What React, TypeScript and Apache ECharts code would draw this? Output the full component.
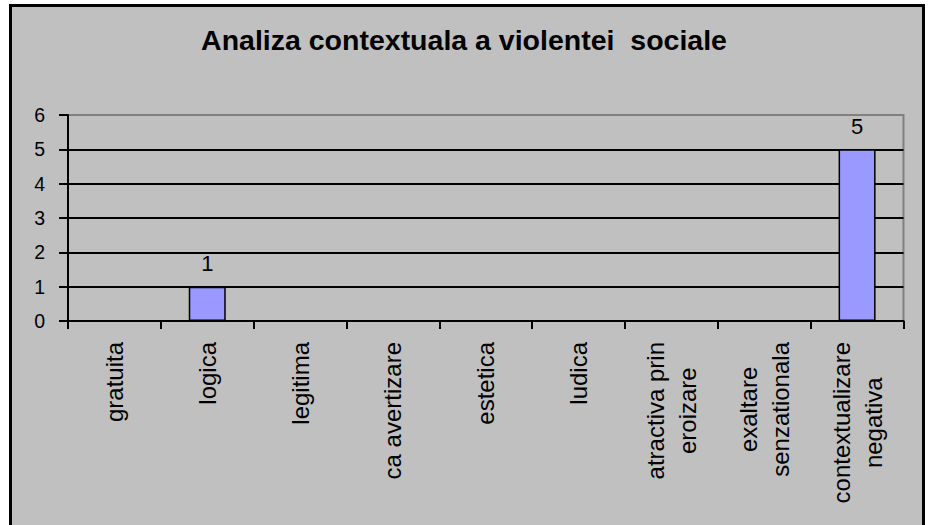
import React, { useEffect, useRef } from "react";
import * as echarts from "echarts";

const titleText = "Analiza contextuala a violentei  sociale";
const categories = [
  "gratuita",
  "logica",
  "legitima",
  "ca avertizare",
  "estetica",
  "ludica",
  "atractiva prin\neroizare",
  "exaltare\nsenzationala",
  "contextualizare\nnegativa",
];
const values = [0, 1, 0, 0, 0, 0, 0, 0, 5];
const yTicks = { min: 0, max: 6, interval: 1 };

const FONT = "'Liberation Sans', Arial, Helvetica, sans-serif";

export default function App() {
  const ref = useRef<HTMLDivElement>(null);
  useEffect(() => {
    if (!ref.current) return;
    const chart = echarts.init(ref.current, null, { renderer: "svg" });
    chart.setOption({
      animation: false,
      backgroundColor: "transparent",
      title: {
        text: titleText,
        left: "center",
        top: 20,
        textStyle: {
          fontFamily: FONT,
          fontSize: 28.5,
          fontWeight: "bold",
          color: "#000",
        },
      },
      grid: {
        left: 68,
        right: 24.5,
        top: 115,
        bottom: 204,
        show: true,
        borderColor: "#808080",
        borderWidth: 2,
        backgroundColor: "transparent",
      },
      xAxis: {
        type: "category",
        data: categories,
        boundaryGap: true,
        axisLine: { show: true, lineStyle: { color: "#000", width: 2 } },
        axisTick: {
          show: true,
          interval: 0,
          length: 8,
          lineStyle: { color: "#000", width: 2 },
        },
        axisLabel: {
          interval: 0,
          rotate: 90,
          margin: 21,
          color: "#000",
          fontFamily: FONT,
          fontSize: 24,
          lineHeight: 32,
          formatter: (v: string) =>
            v
              .split("\n")
              .map((l) => `{c|${l}}`)
              .join("\n"),
          rich: {
            c: {
              align: "center",
              fontFamily: FONT,
              fontSize: 24,
              lineHeight: 32,
              color: "#000",
            },
          },
        },
      },
      yAxis: {
        type: "value",
        min: yTicks.min,
        max: yTicks.max,
        interval: yTicks.interval,
        axisLine: { show: true, lineStyle: { color: "#000", width: 2 } },
        axisTick: {
          show: true,
          length: 9,
          lineStyle: { color: "#000", width: 2 },
        },
        axisLabel: {
          margin: 23,
          color: "#000",
          fontFamily: FONT,
          fontSize: 19.5,
        },
        splitLine: {
          show: true,
          lineStyle: {
            color: ["#000", "#000", "#000", "#000", "#000", "#000", "#808080"],
            width: 2,
          },
        },
      },
      series: [
        {
          type: "bar",
          data: values,
          barWidth: 37,
          itemStyle: {
            color: "#9999FF",
            borderColor: "#000",
            borderWidth: 1.5,
          },
          label: {
            show: true,
            position: "top",
            distance: 12,
            color: "#000",
            fontFamily: FONT,
            fontSize: 22,
            formatter: (p: any) => (p.value ? String(p.value) : ""),
          },
        },
      ],
    });
    return () => chart.dispose();
  }, []);

  return (
    <div
      style={{
        position: "absolute",
        left: 0,
        top: 0,
        width: 928,
        height: 525,
        overflow: "hidden",
        background: "#fff",
      }}
    >
      <div
        style={{
          position: "absolute",
          left: 9,
          top: 4,
          width: 910,
          height: 600,
          border: "3px solid #000",
          background: "#C0C0C0",
        }}
      />
      <div
        ref={ref}
        style={{ position: "absolute", left: 0, top: 0, width: 928, height: 525 }}
      />
    </div>
  );
}
